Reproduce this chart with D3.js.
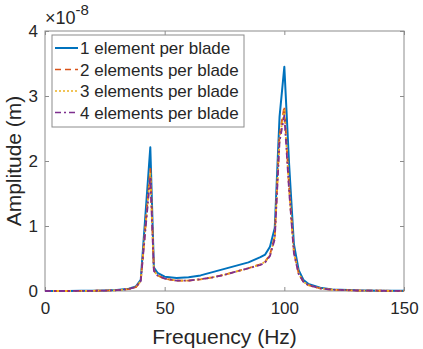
<!DOCTYPE html>
<html>
<head>
<meta charset="utf-8">
<script src="https://cdn.jsdelivr.net/npm/d3@7"></script>
<style>
  body { margin: 0; background: #fff; }
  text { font-family: "Liberation Sans", Arial, sans-serif; fill: #262626; }
</style>
</head>
<body>
<div id="chart"></div>
<script>
// frequency samples (Hz)
var freq = [0, 5, 10, 15, 20, 25, 30, 35, 38, 40, 44, 45.5, 47, 50, 55, 60, 65, 70, 75, 80, 85, 90, 92, 94, 96, 98, 100, 102, 104, 106, 108, 110, 115, 120, 130, 140, 150];

// amplitudes in units of 1e-8 m
var amp1 = [0, 0, 0, 0.002, 0.004, 0.008, 0.015, 0.035, 0.07, 0.17, 2.21, 0.36, 0.28, 0.22, 0.2, 0.21, 0.24, 0.29, 0.34, 0.39, 0.44, 0.52, 0.56, 0.68, 0.97, 2.68, 3.45, 1.95, 0.72, 0.32, 0.17, 0.11, 0.05, 0.025, 0.01, 0.005, 0.003];
var amp2 = [0, 0, 0, 0.002, 0.003, 0.006, 0.012, 0.03, 0.06, 0.15, 1.88, 0.32, 0.24, 0.19, 0.16, 0.16, 0.18, 0.21, 0.25, 0.3, 0.35, 0.41, 0.45, 0.56, 0.84, 2.4, 2.84, 1.6, 0.6, 0.27, 0.14, 0.09, 0.04, 0.02, 0.008, 0.004, 0.002];
var amp3 = [0, 0, 0, 0.002, 0.003, 0.006, 0.012, 0.03, 0.06, 0.15, 1.82, 0.31, 0.24, 0.19, 0.16, 0.16, 0.18, 0.21, 0.25, 0.3, 0.35, 0.41, 0.45, 0.55, 0.82, 2.35, 2.78, 1.57, 0.59, 0.27, 0.14, 0.09, 0.04, 0.02, 0.008, 0.004, 0.002];
var amp4 = [0, 0, 0, 0.002, 0.003, 0.006, 0.012, 0.03, 0.06, 0.15, 1.76, 0.31, 0.24, 0.19, 0.16, 0.16, 0.18, 0.21, 0.25, 0.3, 0.35, 0.4, 0.44, 0.54, 0.8, 2.3, 2.7, 1.54, 0.58, 0.26, 0.14, 0.09, 0.04, 0.02, 0.008, 0.004, 0.002];

var seriesNames = ["1 element per blade", "2 elements per blade", "3 elements per blade", "4 elements per blade"];
var seriesColors = ["#0072BD", "#D95319", "#EDB120", "#7E2F8E"];
var seriesDash = [null, "6,4", "2,2", "6,3,2,3"];
var seriesWidth = [2, 1.8, 1.8, 1.8];
var xTicks = [0, 50, 100, 150];
var yTicks = [0, 1, 2, 3, 4];

var allAmps = [amp1, amp2, amp3, amp4];

var margin = { top: 31, right: 19, bottom: 58, left: 45 },
    width = 423 - margin.left - margin.right,
    height = 349 - margin.top - margin.bottom;

var svg = d3.select("#chart")
    .append("svg")
    .attr("width", 423)
    .attr("height", 349)
    .append("g")
    .attr("transform", "translate(" + margin.left + "," + margin.top + ")");

var x = d3.scaleLinear().domain([0, 150]).range([0, width]);
var y = d3.scaleLinear().domain([0, 4]).range([height, 0]);

var axisColor = "#8c8c8c";

// axes (ticks inside, box on)
function styleAxis(g) {
    g.select(".domain").remove();
    g.selectAll(".tick line").attr("stroke", axisColor);
    g.selectAll(".tick text").style("font-size", "17px").attr("fill", "#262626");
}

svg.append("g")
    .attr("transform", "translate(0," + height + ")")
    .call(d3.axisBottom(x).tickValues(xTicks).tickSizeInner(-4).tickSizeOuter(0).tickPadding(11))
    .call(styleAxis)
    .call(function (g) { g.selectAll(".tick text").attr("dy", "0.71em"); });

svg.append("g")
    .call(d3.axisTop(x).tickValues(xTicks).tickSizeInner(-4).tickSizeOuter(0).tickFormat(""))
    .call(styleAxis);

svg.append("g")
    .call(d3.axisLeft(y).tickValues(yTicks).tickFormat(d3.format("d")).tickSizeInner(-4).tickSizeOuter(0).tickPadding(7))
    .call(styleAxis);

svg.append("g")
    .attr("transform", "translate(" + width + ",0)")
    .call(d3.axisRight(y).tickValues(yTicks).tickSizeInner(-4).tickSizeOuter(0).tickFormat(""))
    .call(styleAxis);

svg.append("rect")
    .attr("x", 0).attr("y", 0)
    .attr("width", width).attr("height", height)
    .attr("fill", "none")
    .attr("stroke", axisColor)
    .attr("stroke-width", 1);

// series lines
var line = d3.line()
    .x(function (d, i) { return x(freq[i]); })
    .y(function (d) { return y(d); });

allAmps.forEach(function (a, k) {
    svg.append("path")
        .datum(a)
        .attr("fill", "none")
        .attr("stroke", seriesColors[k])
        .attr("stroke-width", seriesWidth[k])
        .attr("stroke-dasharray", seriesDash[k])
        .attr("stroke-linejoin", "round")
        .attr("d", line);
});

// axis labels
svg.append("text")
    .text("Frequency (Hz)")
    .attr("x", width / 2)
    .attr("y", height + 53)
    .attr("text-anchor", "middle")
    .style("font-size", "21px");

svg.append("text")
    .text("Amplitude (m)")
    .attr("transform", "rotate(-90)")
    .attr("x", -height / 2)
    .attr("y", -24)
    .attr("text-anchor", "middle")
    .style("font-size", "21px");

// exponent label
var expo = svg.append("text")
    .attr("x", 0)
    .attr("y", -7)
    .style("font-size", "18px");
expo.append("tspan").text("\u00d710");
expo.append("tspan").text("-8").attr("dy", -9).style("font-size", "15px");

// legend
var legend = svg.append("g").attr("transform", "translate(7,4)");
legend.append("rect")
    .attr("width", 192).attr("height", 92)
    .attr("fill", "#fff")
    .attr("stroke", axisColor);

seriesNames.forEach(function (name, k) {
    var ly = 13 + k * 21.5;
    legend.append("line")
        .attr("x1", 3).attr("x2", 26)
        .attr("y1", ly).attr("y2", ly)
        .attr("stroke", seriesColors[k])
        .attr("stroke-width", k == 0 ? 2 : 1.6)
        .attr("stroke-dasharray", seriesDash[k]);
    legend.append("text")
        .text(name)
        .attr("x", 28)
        .attr("y", ly + 6)
        .style("font-size", "17px");
});
</script>
</body>
</html>
